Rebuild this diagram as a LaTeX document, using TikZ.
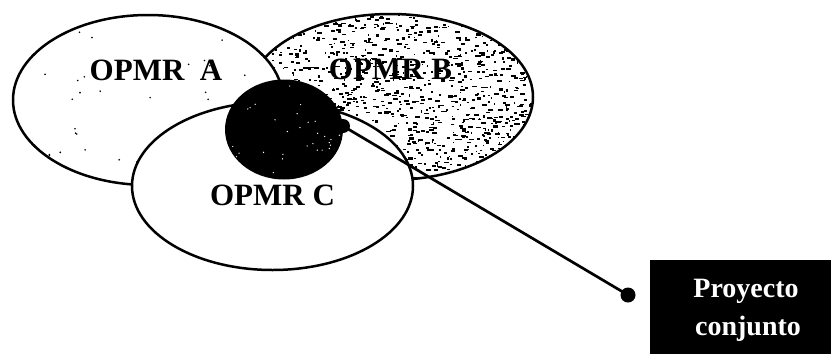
\documentclass[tikz,border=0pt]{standalone}
\usepackage{fontspec}
\setmainfont{Liberation Serif}
\begin{document}
\begin{tikzpicture}[x=1pt,y=-1pt,
  outline/.style={line width=2.5pt,black},
  lbl/.style={anchor=base,inner sep=0pt,font=\fontsize{31}{37}\selectfont\bfseries},
  boxlbl/.style={anchor=base,inner sep=0pt,text=white,font=\fontsize{28}{34}\selectfont\bfseries},
  speck/.style={fill=black}]
\useasboundingbox (0,0) rectangle (831,354);
\fill[white] (0,0) rectangle (831,354);
% ---- B : dense speckle
\begin{scope}
  \clip (390.5,97) ellipse [x radius=142.5, y radius=83];
  \pgfmathsetseed{4711}
  \foreach \i in {1,...,1400}{
    \pgfmathsetmacro{\px}{246+290*rnd}
    \pgfmathsetmacro{\py}{12+172*rnd}
    \pgfmathsetmacro{\pl}{1.0+4.0*rnd}
    \pgfmathsetmacro{\ph}{1.0+1.4*rnd}
    \fill[speck] (\px,\py) rectangle ++(\pl,\ph);
  }
\end{scope}
\draw[outline] (390.5,97) ellipse [x radius=142.5, y radius=83];
% ---- A : sparse dots
\fill[white] (148,100) ellipse [x radius=135, y radius=85];
\begin{scope}
  \clip (148,100) ellipse [x radius=135, y radius=85];
  \pgfmathsetseed{99}
  \foreach \i in {1,...,45}{
    \pgfmathsetmacro{\px}{40+240*rnd}
    \pgfmathsetmacro{\py}{30+140*rnd}
    \fill[speck] (\px,\py) circle (0.9);
  }
\end{scope}
\draw[outline] (148,100) ellipse [x radius=135, y radius=85];
% ---- C
\fill[white] (272.5,186) ellipse [x radius=140.5, y radius=84];
\draw[outline] (272.5,186) ellipse [x radius=140.5, y radius=84];
% ---- dark intersection
\fill[black] (284,129.5) ellipse [x radius=59, y radius=50];
\begin{scope}
  \clip (284,129.5) ellipse [x radius=59, y radius=50];
  \pgfmathsetseed{321}
  \foreach \i in {1,...,35}{
    \pgfmathsetmacro{\px}{230+110*rnd}
    \pgfmathsetmacro{\py}{85+90*rnd}
    \fill[white] (\px,\py) circle (0.7);
  }
\end{scope}
% ---- labels
\node[lbl] (la) at (156,80) {OPMR\ \ A};
\node[lbl] (lb) at (390.5,79) {OPMR B};
\node[lbl] (lc) at (272.5,205) {OPMR C};
% ---- box
\node[fill=black,minimum width=190pt,minimum height=94pt,inner sep=0pt,anchor=north west] (box) at (650,260) {};
\node[boxlbl] (t1) at (746,297) {Proyecto};
\node[boxlbl] (t2) at (748,335) {conjunto};
% ---- connector
\coordinate (p1) at (343,126);
\coordinate (p2) at (628,295);
\draw[line width=2.7pt] (p1) -- (p2);
\fill (p1) circle (7);
\fill (p2) circle (7.5);
\end{tikzpicture}
\end{document}
